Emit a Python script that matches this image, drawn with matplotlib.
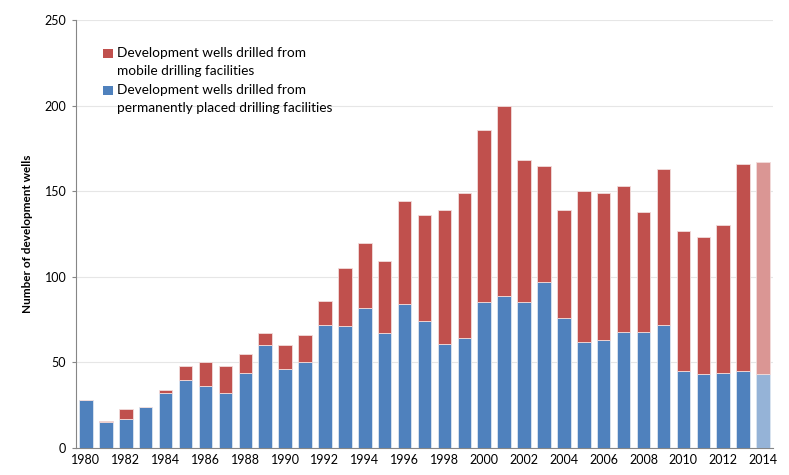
import matplotlib
matplotlib.use("Agg")
import matplotlib.pyplot as plt
import numpy as np
from matplotlib.patches import Rectangle

plt.rcParams['font.family'] = ['Lato', 'DejaVu Sans']

years = list(range(1980, 2015))
permanent = [28, 15, 17, 24, 32, 40, 36, 32, 44, 60, 46, 50, 72, 71, 82, 67, 84, 74, 61, 64,
             85, 89, 85, 97, 76, 62, 63, 68, 68, 72, 45, 43, 44, 45, 43]
totals = [28, 16, 23, 24, 34, 48, 50, 48, 55, 67, 60, 66, 86, 105, 120, 109, 144, 136, 139, 149,
          186, 200, 168, 165, 139, 150, 149, 153, 138, 163, 127, 123, 130, 166, 167]
mobile = [t - p for t, p in zip(totals, permanent)]
ytick_vals = [0, 50, 100, 150, 200, 250]
legend_labels = [['Development wells drilled from', 'mobile drilling facilities'],
                 ['Development wells drilled from', 'permanently placed drilling facilities']]

blue = '#4F81BD'
red = '#C0504D'
blue_light = '#95B3D7'
red_light = '#DA9694'

W, H = 789, 475
fig = plt.figure(figsize=(W/100, H/100), dpi=100)
ax = fig.add_axes([76/W, 1-448/H, (773-76)/W, (448-20)/H])

x = np.arange(len(years))
bcol = [blue]*(len(years)-1) + [blue_light]
rcol = [red]*(len(years)-1) + [red_light]
ax.bar(x, permanent, width=0.68, color=bcol, edgecolor='#DCE6F1', linewidth=0.6, zorder=3)
ax.bar(x, mobile, bottom=permanent, width=0.68, color=rcol, edgecolor='#F2DCDB', linewidth=0.6, zorder=3)

ax.set_xlim(-0.5, len(years)-0.5)
ax.set_ylim(0, 250)
ax.set_yticks(ytick_vals)
ax.set_yticklabels([str(v) for v in ytick_vals], fontsize=9)
ax.set_xticks(x[::2])
ax.set_xticklabels([str(y) for y in years[::2]], fontsize=9)
ax.tick_params(axis='x', length=0, pad=4)
ax.tick_params(axis='y', length=3, color='#868686', pad=4)
ax.yaxis.grid(True, color='#E6E6E6', linewidth=0.8, zorder=0)
ax.set_axisbelow(True)
for s in ['top', 'right']:
    ax.spines[s].set_visible(False)
ax.spines['left'].set_color('#868686')
ax.spines['bottom'].set_color('#868686')
ax.set_ylabel('Number of development wells', fontsize=8.5, fontweight='bold', labelpad=8)

# legend drawn manually (marker aligned with first line, as in the reference)
entry_tops = [53, 90]
for (l1, l2), yc, col in zip(legend_labels, entry_tops, [red, blue]):
    fig.patches.append(Rectangle((103/W, 1-(yc+4.5)/H), 10/W, 9/H, transform=fig.transFigure,
                                 facecolor=col, edgecolor='none'))
    fig.text(117/W, 1-yc/H, l1, fontsize=9.8, va='center', ha='left')
    fig.text(117/W, 1-(yc+17.5)/H, l2, fontsize=9.8, va='center', ha='left')

fig.savefig('out.png', dpi=100)
